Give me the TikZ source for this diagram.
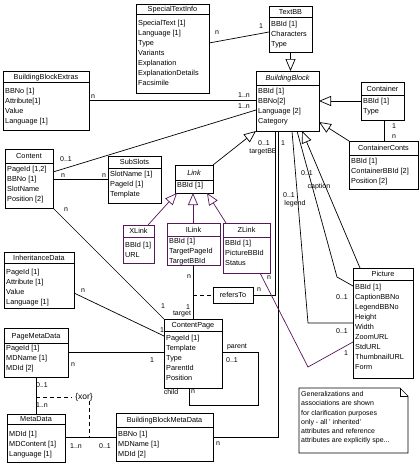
\documentclass[tikz,border=0pt]{standalone}
\usepackage{fontspec}
\setmainfont{Liberation Sans}
\usetikzlibrary{arrows.meta,calc,fit}
\definecolor{lnk}{RGB}{88,24,88}
\tikzset{
  cls/.style={draw, line width=0.7pt, inner sep=0pt, outer sep=0pt},
  txt/.style={inner sep=0pt, font=\fontsize{7.3}{9}\selectfont},
  lbl/.style={inner sep=0pt, font=\fontsize{7}{8}\selectfont},
  assoc/.style={line width=0.7pt},
  gen/.style={line width=0.7pt, -{Triangle[open,length=12pt,width=10pt,fill=white]}},
  xordash/.style={line width=0.7pt, dash pattern=on 4pt off 3pt},
}
\newcommand\umlcls[8][black]{%
  \node[cls, draw=#1, fit={(#3) (#4)}] (#2) {};
  \draw[#1, line width=0.7pt] ($(#2.north west)+(0,#5)$) -- ($(#2.north east)+(0,#5)$);
  \node[txt, anchor=base] at ($(#2.north)+(0,{#5/2+2.6})$) {#7};
  \foreach \rowtext [count=\i] in {#8} {
    \node[txt, anchor=base west] at ($(#2.north west)+(2,{#6+2.6+(\i-1)*10})$) {\rowtext};
  }
}
\begin{document}
\begin{tikzpicture}[x=1pt,y=-1pt]
\fill[white] (0,0) rectangle (420,464);
\path[use as bounding box] (0,0) rectangle (420,464);

% classes
\umlcls{STI}{136,4}{209,93}{10}{19}{SpecialTextInfo}{SpecialText [1],Language [1],Type,Variants,Explanation,ExplanationDetails,Facsimile}
\umlcls{TextBB}{269,6}{312,52}{11}{18}{TextBB}{BBId [1],Characters,Type}
\umlcls{BB}{256,71}{319,131}{14}{19.5}{\itshape BuildingBlock}{BBId [1],BBNo[2],Language [2],Category}
\umlcls{Container}{361,82}{404,120}{13}{18.5}{Container}{BBId [1],Type}
\umlcls{CC}{349,141}{418,189}{14}{20}{ContainerConts}{BBId [1],ContainerBBId [2],Position [2]}
\umlcls{BBE}{3,71}{89,130}{11}{19.5}{BuildingBlockExtras}{BBNo [1],Attribute[1],Value,Language [1]}
\umlcls{Content}{5,149}{53,208}{14}{20}{Content}{{PageId [1,2]},BBNo [1],SlotName,Position [2]}
\umlcls{SubSlots}{108,156}{161,203}{12}{18}{SubSlots}{SlotName [1],PageId [1],Template}
\umlcls{Link}{175,165}{213,193}{15}{20}{\itshape Link}{BBId [1]}
\umlcls[lnk]{XLink}{123,225}{154,263}{12}{20}{XLink}{BBId [1],URL}
\umlcls[lnk]{ILink}{167,223}{220,265}{13}{18}{ILink}{BBId [1],TargetPageId,TargetBBId}
\umlcls[lnk]{ZLink}{223,223}{270,273}{14}{20}{ZLink}{BBId [1],PictureBBId,Status}
\umlcls{Picture}{353,268}{413,378}{12}{19}{Picture}{BBId [1],CaptionBBNo,LegendBBNo,Height,Width,ZoomURL,StdURL,ThumbnailURL,Form}
\umlcls{IHD}{4,252}{74,308}{11}{19.5}{InheritanceData}{PageId [1],Attribute [1],Value,Language [1]}
\umlcls{CP}{164,319}{222,388}{12}{18.5}{ContentPage}{PageId [1],Template,Type,ParentId,Position}
\umlcls{PMD}{4,328}{68,377}{15}{20}{PageMetaData}{PageId [1],MDName [1],MDId [2]}
\umlcls{MD}{7,414}{65,462}{10}{20}{MetaData}{MDId [1],MDContent [1],Language [1]}
\umlcls{BBMD}{116,413}{213,461}{14}{21}{BuildingBlockMetaData}{BBNo [1],MDName [1],MDId [2]}
\node[cls, fit={(213,287) (253,303)}] (refersTo) {};
\node[txt] at (refersTo.center) {refersTo};

% note
\node[inner sep=0pt, outer sep=0pt, fit={(299,388) (408,453)}] (note) {};
\draw[line width=0.7pt] (note.north west) -- ($(note.north east)+(-8,0)$) -- ($(note.north east)+(0,8)$) -- (note.south east) -- (note.south west) -- cycle;
\draw[line width=0.7pt] ($(note.north east)+(-8,0)$) |- ($(note.north east)+(0,8)$);
\node[txt, anchor=north west, align=left, font=\fontsize{7}{9.2}\selectfont] at ($(note.north west)+(2,3.5)$) {Generalizations and\\associations are shown\\for clarification purposes\\only - all ' inherited'\\attributes and reference\\attributes are explicitly spe...};

% generalizations
\draw[gen] (TextBB.south) -- (TextBB.south |- BB.north);
\draw[gen] (Container.west) -- (Container.west -| BB.east);
\draw[gen] (CC.north west) -- ($(BB.south east)+(0,-9)$);
\draw[gen] (Link.north east) -- (BB.south west);
\draw[gen] ($(Picture.north west)+(7,0)$) -- ($(BB.south west)+(46,0)$);
\coordinate (ilx) at ($(ILink.south west)+(26,0)$);
\draw[gen, draw=lnk] ($(XLink.north east)+(-6,0)$) -- ($(Link.south west)+(2,0)$);
\draw[gen, draw=lnk] (ilx |- ILink.north) -- (ilx |- Link.south);
\draw[gen, draw=lnk] ($(ZLink.north west)+(3,0)$) -- ($(Link.south east)+(-6,0)$);

% associations
\draw[assoc] ($(STI.north east)+(0,39)$) -- ($(TextBB.north west)+(0,26)$);
\draw[assoc] ($(BBE.north east)+(0,29)$) -- ($(BB.north west)+(0,29)$);
\draw[assoc] ($(Content.north east)+(0,23)$) -- ($(BB.north west)+(0,39)$);
\draw[assoc] ($(Content.north east)+(0,30)$) -- ($(SubSlots.north west)+(0,23)$);
\draw[assoc] ($(Container.south west)+(23,0)$) -- ($(CC.north west)+(35,0)$);
\draw[assoc] ($(BB.south west)+(19,0)$) |- (refersTo.east);
\draw[assoc] ($(BB.south west)+(22,0)$) |- (BBMD.east);
\coordinate (legbend) at (308,323);
\draw[assoc] ($(BB.south west)+(36,0)$) -- (legbend) -- (legbend -| Picture.west);
\coordinate (capbend) at (337,277);
\draw[assoc] ($(BB.south west)+(41,0)$) -- (capbend) -- ($(Picture.north west)+(0,18)$);
\coordinate (zbend) at (308,367);
\draw[assoc, lnk] ($(ZLink.south west)+(37,0)$) -- (zbend) -- ($(Picture.north west)+(0,74)$);
\draw[assoc] (ilx) -- (ilx |- CP.north);
\draw[xordash] (ilx |- refersTo.west) -- (refersTo.west);
\draw[assoc] (Content.south east) -- (CP.north west);
\draw[assoc] ($(IHD.north east)+(0,41)$) -- ($(CP.north west)+(0,17)$);
\draw[assoc] ($(PMD.north east)+(0,24)$) -- ($(CP.north west)+(0,33)$);
\draw[assoc] ($(CP.north east)+(0,33)$) -- ++(36,0) -- ++(0,53) -- ($(CP.south west)+(25,17)$) -- ($(CP.south west)+(25,0)$);
\coordinate (pmdx) at ($(PMD.south west)+(32,0)$);
\draw[assoc] (pmdx) -- (pmdx |- MD.north);
\draw[assoc] ($(MD.north east)+(0,23)$) -- ($(BBMD.north west)+(0,24)$);
\coordinate (xa) at ($(pmdx)+(0,20)$);
\draw[xordash] (xa) -- ++(36,0);
\node[inner sep=0pt, font=\fontsize{8.5}{9}\selectfont] (xor) at (84,397) {\{xor\}};
\draw[xordash] (xor.south -| 89,0) -- (89,437);

% labels
\node[lbl] at (217,33) {n};
\node[lbl] at (261,26) {1};
\node[lbl] at (93,97) {n};
\node[lbl] at (244,95) {1..n};
\node[lbl] at (66,159) {0..1};
\node[lbl] at (244,106) {1..n};
\node[lbl] at (63,176) {n};
\node[lbl] at (104,176) {n};
\node[lbl] at (394,126) {1};
\node[lbl] at (394,137) {n};
\node[lbl] at (264,143) {0..1};
\node[lbl] at (263,152) {targetBB};
\node[lbl] at (283,143) {1};
\node[lbl] at (259,290) {n};
\node[lbl] at (289,195) {0..1};
\node[lbl] at (295,204) {legend};
\node[lbl] at (307,173) {0..1};
\node[lbl] at (319,187) {caption};
\node[lbl] at (342,297) {0..1};
\node[lbl] at (342,331) {0..1};
\node[lbl] at (346,353) {1};
\node[lbl] at (269,278) {n};
\node[lbl] at (189,277) {n};
\node[lbl] at (188,307) {1};
\node[lbl] at (182,314) {target};
\node[lbl] at (66,210) {n};
\node[lbl] at (163,306) {1};
\node[lbl] at (83,291) {n};
\node[lbl] at (162,330) {1};
\node[lbl] at (73,365) {n};
\node[lbl] at (152,360) {1};
\node[lbl] at (237,347) {parent};
\node[lbl] at (232,360) {0..1};
\node[lbl] at (171,392) {child};
\node[lbl] at (193,392) {n};
\node[lbl] at (42,385) {0..1};
\node[lbl] at (42,405) {1..n};
\node[lbl] at (76,446) {1..n};
\node[lbl] at (105,446) {0..1};
\node[lbl] at (218,444) {n};
\end{tikzpicture}
\end{document}
